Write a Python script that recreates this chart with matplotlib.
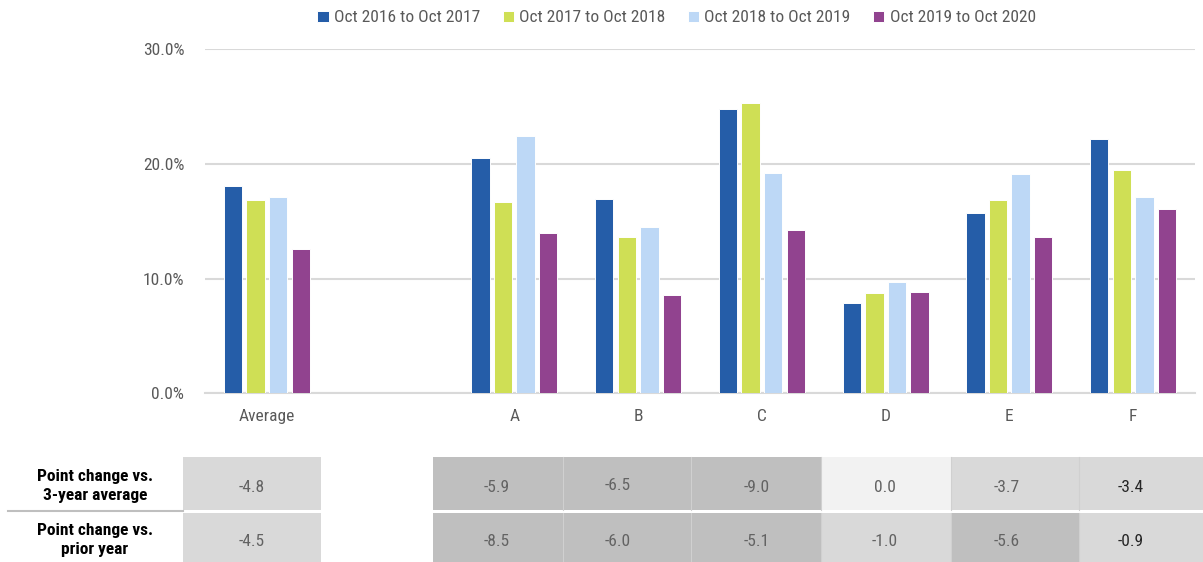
import numpy as np
import matplotlib
matplotlib.use("Agg")
import matplotlib.pyplot as plt
from matplotlib.patches import Rectangle
from matplotlib import font_manager

# ---------------- data ----------------
categories = ["Average", "A", "B", "C", "D", "E", "F"]
series_names = ["Oct 2016 to Oct 2017", "Oct 2017 to Oct 2018",
                "Oct 2018 to Oct 2019", "Oct 2019 to Oct 2020"]
s_2017 = [18.1, 20.5, 16.9, 24.8, 7.9, 15.7, 22.2]
s_2018 = [16.8, 16.7, 13.6, 25.3, 8.7, 16.8, 19.5]
s_2019 = [17.1, 22.4, 14.5, 19.2, 9.7, 19.1, 17.1]
s_2020 = [12.6, 14.0, 8.6, 14.2, 8.8, 13.6, 16.1]
yticks = [0, 10, 20, 30]

row_labels = ["Point change vs.\n3-year average", "Point change vs.\nprior year"]
row_3yr = ["-4.8", "-5.9", "-6.5", "-9.0", "0.0", "-3.7", "-3.4"]
row_prior = ["-4.5", "-8.5", "-6.0", "-5.1", "-1.0", "-5.6", "-0.9"]
shade_3yr = ["#D9D9D9", "#BFBFBF", "#BFBFBF", "#BFBFBF", "#F2F2F2", "#D9D9D9", "#D9D9D9"]
shade_prior = ["#D9D9D9", "#BFBFBF", "#BFBFBF", "#BFBFBF", "#D9D9D9", "#BFBFBF", "#D9D9D9"]

colors = ["#255DA8", "#CFDF55", "#BDD8F6", "#91438F"]

# ---------------- fonts ----------------
names = sorted({f.name for f in font_manager.fontManager.ttflist})
narrow = [n for n in names if ("Narrow" in n or "Condensed" in n) and "Mono" not in n
          and "Serif" not in n]
pref = ["Liberation Sans Narrow", "Roboto Condensed", "Open Sans Condensed",
        "Noto Sans Condensed", "DejaVu Sans Condensed"]
chosen = None
for p in pref:
    if p in narrow:
        chosen = p
        break
if chosen is None and narrow:
    chosen = narrow[0]
if chosen:
    plt.rcParams["font.family"] = [chosen, "Liberation Sans"]
    FS = 12.5
else:
    plt.rcParams["font.family"] = ["Liberation Sans"]
    FS = 11.3

W, H = 1203, 562
fig = plt.figure(figsize=(W / 100, H / 100), dpi=100)

# ---------------- bar chart ----------------
ax_l, ax_r, ax_b, ax_t = 205, 1195, 393.3, 49
ax = fig.add_axes([ax_l / W, 1 - ax_b / H, (ax_r - ax_l) / W, (ax_b - ax_t) / H])

slots = [0] + list(range(2, 2 + len(categories) - 1))  # blank slot after Average
x = np.array(slots, dtype=float)
bw = 0.148
pitch = 0.182
all_series = [s_2017, s_2018, s_2019, s_2020]
for i, (vals, c, name) in enumerate(zip(all_series, colors, series_names)):
    ax.bar(x + (i - 1.5) * pitch, vals, width=bw, color=c, edgecolor="white",
           linewidth=0.7, label=name, zorder=3)

ax.set_xlim(-0.5, 7.5)
ax.set_ylim(0, 30)
ax.set_yticks(yticks)
ax.set_yticklabels([f"{v:.1f}%" for v in yticks])
ax.set_xticks(x)
ax.set_xticklabels(categories)
ax.grid(axis="y", color="#D9D9D9", linewidth=1.5, zorder=0)
ax.set_axisbelow(True)
for s in ax.spines.values():
    s.set_visible(False)
ax.tick_params(axis="both", length=0, colors="#595959", labelsize=FS)
ax.tick_params(axis="y", pad=15)
ax.tick_params(axis="x", pad=11)
ax.axhline(0, color="#D9D9D9", linewidth=1.5, zorder=1, clip_on=False)

handles, labels = ax.get_legend_handles_labels()
leg = fig.legend(handles, labels, loc="center", ncol=4,
                 bbox_to_anchor=(676.5 / W, 1 - 18 / H), frameon=False,
                 fontsize=FS, handlelength=0.65, handleheight=0.65,
                 handletextpad=0.3, columnspacing=1.3, borderaxespad=0)
for t in leg.get_texts():
    t.set_color("#595959")

# ---------------- table ----------------
tx = fig.add_axes([0, 0, 1, 1])
tx.set_xlim(0, W)
tx.set_ylim(H, 0)
tx.axis("off")

col_edges = [(183, 321), (433.3, 562.7), (562.7, 691), (691, 821), (821, 951),
             (951, 1079.3), (1079.3, 1208)]
text_x = [252, 497, 618, 757, 885, 1007, 1131]
rows = [(457.3, 509.7, row_3yr, shade_3yr, 488), (512.7, 565, row_prior, shade_prior, 541)]
for ri, (y0, y1, vals, shades, ty) in enumerate(rows):
    for ci, ((x0, x1), v, sh) in enumerate(zip(col_edges, vals, shades)):
        tx.add_patch(Rectangle((x0, y0), x1 - x0, y1 - y0, facecolor=sh,
                               edgecolor="none", zorder=1))
        if ci > 1:
            tx.plot([x0, x0], [y0, y1], color="#D0D0D0", lw=0.8, zorder=2)
        dy = -2.5 if (ri == 0 and ci == 2) else 0
        tc = "#262626" if ci == len(vals) - 1 else "#636363"
        tx.text(text_x[ci], ty + dy, v, ha="center", va="center",
                fontsize=FS, color=tc, zorder=3)

tx.plot([8, 183], [511, 511], color="#BFBFBF", lw=1.5)
tx.text(95, 486, row_labels[0], ha="center", va="center", fontsize=FS,
        fontweight="bold", color="black", linespacing=1.3)
tx.text(95, 540, row_labels[1], ha="center", va="center", fontsize=FS,
        fontweight="bold", color="black", linespacing=1.3)

fig.savefig("out.png", dpi=100)
